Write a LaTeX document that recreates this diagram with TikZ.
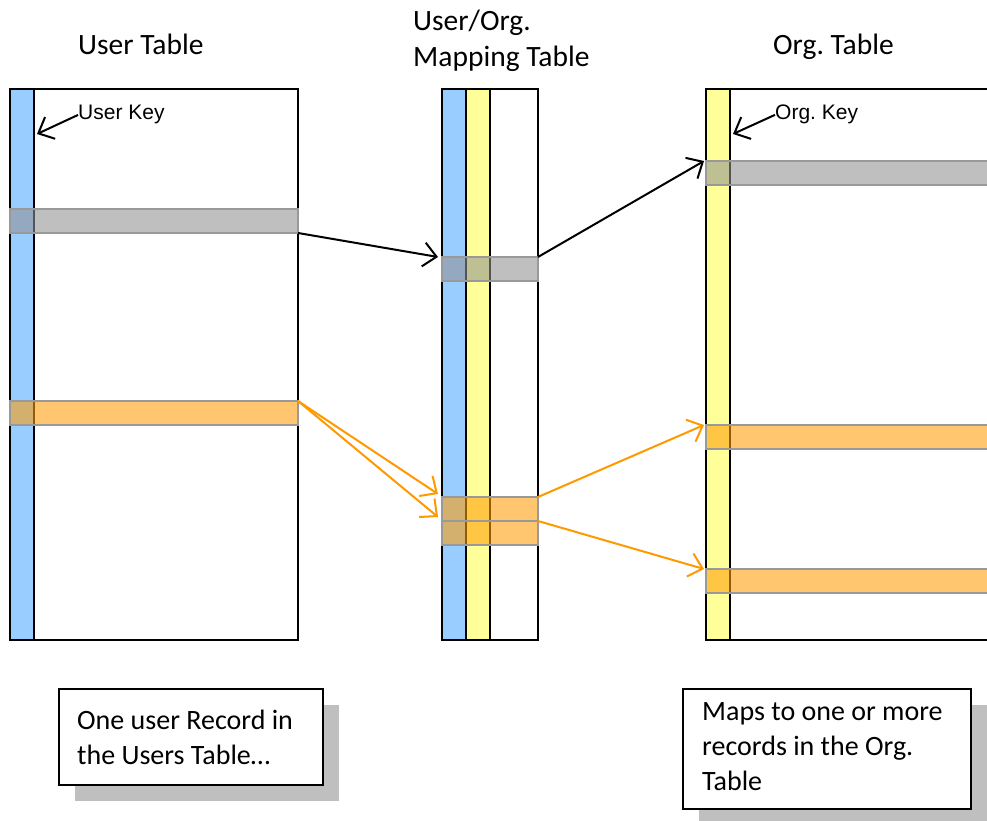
\documentclass[tikz,border=0pt]{standalone}
\usepackage{fontspec}
\setmainfont{Carlito}
\newfontfamily\arialfont{Liberation Sans}
\usetikzlibrary{arrows.meta,shadows}
\frenchspacing
\definecolor{keyblue}{HTML}{99CCFF}
\definecolor{keyyellow}{HTML}{FFFF99}
\definecolor{rowgray}{HTML}{919191}
\definecolor{roworange}{HTML}{FF9D08}
\definecolor{rowedge}{HTML}{999999}
\definecolor{arroworange}{HTML}{FF9900}
\definecolor{shadowgray}{HTML}{BFBFBF}
\begin{document}
\begin{tikzpicture}[x=1pt,y=-1pt,
  tbl/.style={draw=black, line width=2pt, fill=white, inner sep=0pt, outer sep=0pt, anchor=north west},
  keycol/.style={draw=black, line width=2pt, inner sep=0pt, outer sep=0pt, anchor=north west, minimum width=24pt, minimum height=551pt},
  rowbase/.style={draw=rowedge, line width=2pt, inner sep=0pt, outer sep=0pt, anchor=north west, minimum height=24pt, fill opacity=0.58},
  grayrow/.style={rowbase, fill=rowgray},
  orangerow/.style={rowbase, fill=roworange},
  blackarrow/.style={draw=black, line width=2pt, -{Straight Barb[length=13pt,width=24pt]}},
  orangearrow/.style={draw=arroworange, line width=2pt, -{Straight Barb[length=13pt,width=24pt]}},
  head/.style={inner sep=0pt, font=\fontsize{29.5}{36}\selectfont},
  keylabel/.style={inner sep=0pt, font=\arialfont\fontsize{21}{25}\selectfont},
  callout/.style={draw=black, line width=2pt, fill=white, anchor=north west, inner sep=0pt,
    drop shadow={shadow xshift=16pt, shadow yshift=-16pt, fill=shadowgray, opacity=1}},
  boxtext/.style={inner sep=0pt, align=left, font=\fontsize{28}{35}\selectfont}
]
\clip (0,0) rectangle (987,821);
\fill[white] (0,0) rectangle (987,821);

% headings
\node[head, anchor=base west] (uhead) at (78,55) {User Table};
\node[head, anchor=north west, align=left] (mhead) at (413,10) {User/Org.\\Mapping Table};
\node[head, anchor=base west] (ohead) at (773,55) {Org. Table};

% user table
\node[tbl, minimum width=288pt, minimum height=551pt] (utab) at (10,89) {};
\node[keycol, fill=keyblue] (ukey) at (10,89) {};
\node[grayrow, minimum width=288pt] (urec) at (10,209) {};
\node[orangerow, minimum width=288pt] (urec2) at (10,401) {};

% mapping table
\node[tbl, minimum width=96pt, minimum height=551pt] (mtab) at (442,89) {};
\node[keycol, fill=keyblue] (mukey) at (442,89) {};
\node[keycol, fill=keyyellow] (mokey) at (466,89) {};
\node[grayrow, minimum width=96pt] (mrec) at (442,257) {};
\node[orangerow, minimum width=96pt] (mrec2) at (442,497) {};
\node[orangerow, minimum width=96pt] (mrec3) at (442,521) {};

% org table
\node[tbl, minimum width=300pt, minimum height=551pt] (otab) at (706,89) {};
\node[keycol, fill=keyyellow] (okey) at (706,89) {};
\node[grayrow, minimum width=300pt] (orec) at (706,161) {};
\node[orangerow, minimum width=300pt] (orec2) at (706,425) {};
\node[orangerow, minimum width=300pt] (orec3) at (706,569) {};

% key labels
\node[keylabel, anchor=base west] (ukeylbl) at (78,120) {User Key};
\node[keylabel, anchor=base west] (okeylbl) at (775,120) {Org. Key};
\draw[blackarrow] (ukeylbl.west) -- ([xshift=3pt,yshift=-45pt]ukey.north east);
\draw[blackarrow] (okeylbl.west) -- ([xshift=3pt,yshift=-45pt]okey.north east);

% connectors
\draw[blackarrow] (urec.south east) -- ([xshift=-4pt]mrec.north west);
\draw[blackarrow] (mrec.north east) -- ([xshift=-2pt]orec.north west);
\draw[orangearrow] (urec2.north east) -- ([xshift=-4pt,yshift=3pt]mrec2.north west);
\draw[orangearrow] (urec2.north east) -- ([xshift=-4pt,yshift=4pt]mrec3.north west);
\draw[orangearrow] (mrec2.north east) -- ([xshift=-2pt]orec2.north west);
\draw[orangearrow] (mrec3.north east) -- ([xshift=-2pt]orec3.north west);

% callouts
\node[callout, minimum width=264pt, minimum height=96pt] (ubox) at (58,688) {};
\node[boxtext, anchor=west] (ubtext) at ([xshift=19pt]ubox.west) {One user Record in\\the Users Table…};
\node[callout, minimum width=288pt, minimum height=120pt] (obox) at (682,688) {};
\node[boxtext, anchor=west] (obtext) at ([xshift=20pt,yshift=2pt]obox.west) {Maps to one or more\\records in the Org.\\Table};
\end{tikzpicture}
\end{document}
